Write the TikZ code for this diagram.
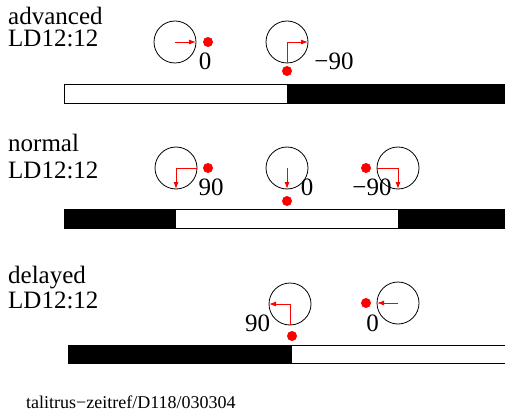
\documentclass[tikz,border=0pt]{standalone}
\usepackage{fontspec}
\setmainfont{Liberation Serif}
\usetikzlibrary{arrows.meta,positioning}

\begin{document}
\begin{tikzpicture}[
    x=1pt,y=-1pt,
    hd/.style   = {anchor=base west,inner sep=0pt,font=\fontsize{25}{25}\selectfont},
    lbl/.style  = {anchor=base,inner sep=0pt,font=\fontsize{25}{25}\selectfont},
    clk/.style  = {circle,draw,line width=0.8pt,minimum size=42pt,inner sep=0pt,outer sep=0pt},
    dot/.style  = {circle,fill=red,minimum size=10pt,inner sep=0pt},
    ar/.style   = {-{Latex[length=7pt,width=5pt]},red,line width=0.9pt},
    bar/.style  = {draw,line width=0.8pt},
  ]
  \useasboundingbox (0,0) rectangle (505,414);

  % advanced
  \node[hd] (t1) at (8,25) {advanced};
  \node[hd] (l1) at (8,47) {LD12:12};
  \node[clk] (a1) at (175,42) {};
  \node[dot] (p1) at (208,42) {};
  \node[lbl] (n1) at (205,70) {0};
  \node[clk] (a2) at (287,42) {};
  \node[dot] (p2) at (287,71) {};
  \node[lbl] (n2) at (334,70) {−90};
  \draw[ar] (a1.center) -- (a1.east);
  \draw[ar] (a2.south) |- (a2.east);
  \draw[bar] (64,84) rectangle (505,103);
  \fill (287,84) rectangle (505,103);

  % normal
  \node[hd] (t2) at (8,152) {normal};
  \node[hd] (l2) at (8,178) {LD12:12};
  \node[clk] (b1) at (176,168) {};
  \node[dot] (q1) at (208,168) {};
  \node[lbl] (m1) at (211,195) {90};
  \node[clk] (b2) at (287,168) {};
  \node[dot] (q2) at (287,201) {};
  \node[lbl] (m2) at (307,195) {0};
  \node[clk] (b3) at (398,168) {};
  \node[dot] (q3) at (366,168) {};
  \node[lbl] (m3) at (372,195) {−90};
  \draw[ar] (b1.east) -| (b1.south);
  \draw[ar] (b2.center) -- (b2.south);
  \draw[ar] (b3.west) -| (b3.south);
  \draw[bar] (64,209) rectangle (505,228);
  \fill (64,209) rectangle (176,228);
  \fill (398,209) rectangle (505,228);

  % delayed
  \node[hd] (t3) at (8,283) {delayed};
  \node[hd] (l3) at (8,308) {LD12:12};
  \node[clk] (d1) at (290,304) {};
  \node[dot] (r1) at (292,336) {};
  \node[lbl] (k1) at (257.5,331) {90};
  \node[clk] (d2) at (398,303) {};
  \node[dot] (r2) at (366,303) {};
  \node[lbl] (k2) at (372.5,331) {0};
  \draw[ar] (d1.south) |- (d1.west);
  \draw[ar] (d2.center) -- (d2.west);
  \draw[bar] (68,345) rectangle (505,363);
  \fill (68,345) rectangle (292,363);

  \node[anchor=base west,inner sep=0pt,font=\fontsize{18}{18}\selectfont] (src) at (26,408)
    {talitrus−zeitref/D118/030304};
\end{tikzpicture}
\end{document}
